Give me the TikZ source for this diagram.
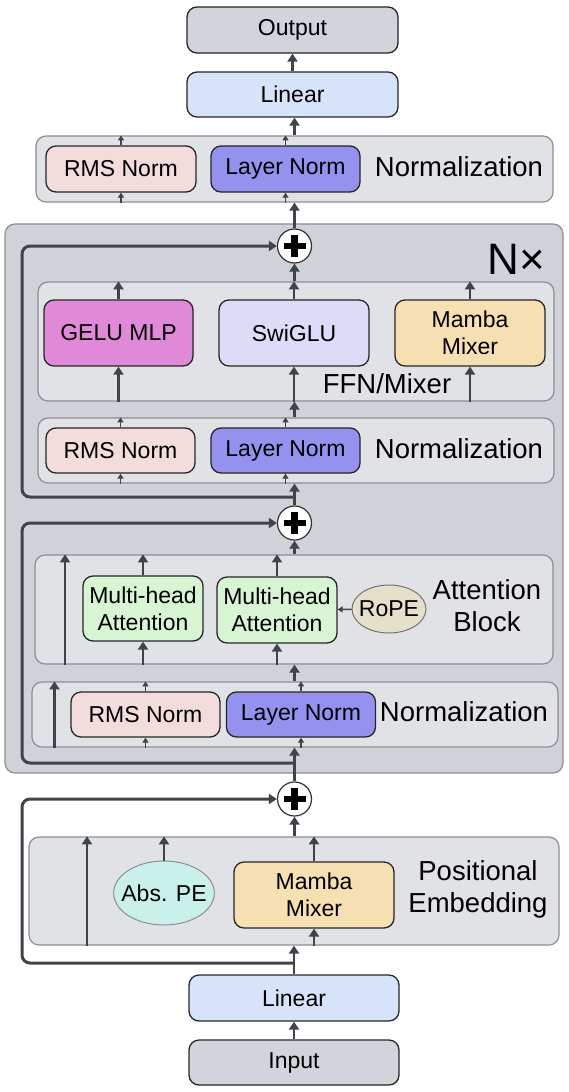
\documentclass[tikz,border=0pt]{standalone}
\usepackage{fontspec}
\setmainfont{Liberation Sans}
\usepackage{xcolor}
\usetikzlibrary{arrows.meta,shapes.geometric}

\definecolor{boxgray}{HTML}{D1D4DB}
\definecolor{linblue}{HTML}{D6E3F8}
\definecolor{grpbg}{HTML}{E1E2E6}
\definecolor{grpline}{HTML}{8C8E93}
\definecolor{bigbg}{HTML}{CFD2D9}
\definecolor{rmsc}{HTML}{F2DCDC}
\definecolor{lnc}{HTML}{9492EE}
\definecolor{geluc}{HTML}{DF89D8}
\definecolor{swic}{HTML}{DDDCF8}
\definecolor{mambc}{HTML}{F6DFB1}
\definecolor{mhac}{HTML}{D7F5D3}
\definecolor{ropec}{HTML}{E6E0CB}
\definecolor{absc}{HTML}{C9F0E9}
\definecolor{arrowc}{HTML}{3F444B}

\begin{document}
\begin{tikzpicture}[x=1pt,y=-1pt,
    box/.style={draw=black!85,line width=1.3pt,rounded corners=10pt,inner sep=0pt,align=center,font=\fontsize{23}{27}\selectfont},
    grp/.style={draw=grpline,fill=grpbg,line width=1.2pt,rounded corners=10pt,inner sep=0pt},
    lbl/.style={inner sep=0pt,align=center,font=\fontsize{27.5}{32}\selectfont},
    oval/.style={ellipse,draw=grpline,line width=1pt,inner ysep=0pt,inner xsep=-7pt,align=center,font=\fontsize{23}{27}\selectfont},
    plus/.style={circle,draw=black!80,line width=1.2pt,fill=white,minimum size=34pt,inner sep=0pt,
        path picture={\fill[black] ([shift={(-11pt,-3.2pt)}]path picture bounding box.center) rectangle ([shift={(11pt,3.2pt)}]path picture bounding box.center);
        \fill[black] ([shift={(-3.2pt,-11pt)}]path picture bounding box.center) rectangle ([shift={(3.2pt,11pt)}]path picture bounding box.center);}},
    arr/.style={draw=arrowc,line width=2.6pt,-{Triangle[width=10pt,length=8pt]}},
    tick/.style={draw=arrowc,line width=1.4pt,-{Triangle[width=6pt,length=5pt]}},
    skipline/.style={draw=arrowc,line width=3pt,rounded corners=8pt,-{Triangle[width=10pt,length=8pt]}}]
    \useasboundingbox (0,0) rectangle (568,1092);
    \node[grp,fill=bigbg,minimum width=558pt,minimum height=549pt] (blk) at (284,498.5) {};
    \node[lbl,font=\fontsize{44}{48}\selectfont] (nx) at (516,259) {N×};
    % top
    \node[box,fill=boxgray,minimum width=211pt,minimum height=46pt] (out) at (292.5,30) {Output};
    \node[box,fill=linblue,minimum width=211pt,minimum height=45pt] (linT) at (292.5,94.5) {Linear};
    \node[grp,minimum width=517pt,minimum height=66pt] (nrm0) at (294.5,169) {};
    \node[box,fill=rmsc,minimum width=150pt,minimum height=46pt] (rms0) at (121,169) {RMS Norm};
    \node[box,fill=lnc,minimum width=149pt,minimum height=46pt] (ln0) at (285.5,169) {Layer Norm};
    \node[lbl] (nl0) at (459,167) {Normalization};
    % mixer layer
    \node[plus] (p1) at (294.5,246) {};
    \node[grp,minimum width=516pt,minimum height=119pt] (ffn) at (296,341.5) {};
    \node[box,fill=geluc,minimum width=149pt,minimum height=66pt] (gelu) at (118.5,333) {GELU MLP};
    \node[box,fill=swic,minimum width=150pt,minimum height=66pt] (swi) at (294,333) {SwiGLU};
    \node[box,fill=mambc,minimum width=150pt,minimum height=66pt] (mamA) at (470,333) {Mamba\\Mixer};
    \node[lbl] (fl) at (387,384) {FFN/Mixer};
    \node[grp,minimum width=516pt,minimum height=65pt] (nrm1) at (296,450.5) {};
    \node[box,fill=rmsc,minimum width=149pt,minimum height=45pt] (rms1) at (120.5,450.5) {RMS Norm};
    \node[box,fill=lnc,minimum width=149pt,minimum height=45pt] (ln1) at (285.5,450.5) {Layer Norm};
    \node[lbl] (nl1) at (459,449) {Normalization};
    % attention layer
    \node[plus] (p2) at (294.5,523) {};
    \node[grp,minimum width=518pt,minimum height=109pt] (att) at (294,609.5) {};
    \node[box,fill=mhac,minimum width=120pt,minimum height=65pt] (mhaA) at (143,608.5) {Multi-head\\Attention};
    \node[box,fill=mhac,minimum width=120pt,minimum height=66pt] (mhaB) at (277,610) {Multi-head\\Attention};
    \node[oval,fill=ropec,draw=black!55,minimum width=74pt,minimum height=48pt] (rope) at (389,609) {RoPE};
    \node[lbl] (al) at (487,606) {Attention\\Block};
    \node[grp,minimum width=526pt,minimum height=65pt] (nrm2) at (295,714.5) {};
    \node[box,fill=rmsc,minimum width=149pt,minimum height=45pt] (rms2) at (145.5,714.5) {RMS Norm};
    \node[box,fill=lnc,minimum width=149pt,minimum height=45pt] (ln2) at (301,714.5) {Layer Norm};
    \node[lbl] (nl2) at (464,712) {Normalization};
    % embedding
    \node[plus] (p3) at (294.5,799) {};
    \node[grp,minimum width=530pt,minimum height=108pt] (pos) at (294,891) {};
    \node[oval,fill=absc,minimum width=97pt,minimum height=64pt] (abs) at (164,893) {Abs. PE};
    \node[box,fill=mambc,minimum width=160pt,minimum height=66pt] (mamB) at (314,895) {Mamba\\Mixer};
    \node[lbl] (pl) at (478,889) {Positional\\Embedding};
    \node[box,fill=linblue,minimum width=210pt,minimum height=46pt] (linB) at (294,998) {Linear};
    \node[box,fill=boxgray,minimum width=210pt,minimum height=45pt] (inp) at (294,1062.5) {Input};
    \coordinate (rail) at (22,0);
    \coordinate (s1) at (294.5,497);
    \coordinate (s2) at (294.5,763);
    \coordinate (s3) at (294.5,963);
    \coordinate (k1) at (54.5,0);
    \coordinate (k2) at (65,0);
    \coordinate (k3) at (87,0);
    % spine
    \draw[arr] (inp) -- (linB);
    \draw[arr] (linB.north) -- (linB.north |- pos.south);
    \draw[arr] (p3.north |- pos.north) -- (p3);
    \draw[arr] (p3.north) -- (p3.north |- nrm2.south);
    \draw[arr] (p2.south |- nrm2.north) -- (p2.south |- att.south);
    \draw[arr] (p2.south |- att.north) -- (p2);
    \draw[arr] (p2.north) -- (p2.north |- nrm1.south);
    \draw[arr] (p1.south |- nrm1.north) -- (p1.south |- ffn.south);
    \draw[arr] (p1.south |- ffn.north) -- (p1);
    \draw[arr] (p1.north) -- (p1.north |- nrm0.south);
    \draw[arr] (p1.north |- nrm0.north) -- (p1.north |- linT.south);
    \draw[arr] (linT) -- (out);
    % residual loops
    \draw[skipline] (s1) -- (s1 -| rail) -- (p1.west -| rail) -- (p1.west);
    \draw[skipline] (s2) -- (s2 -| rail) -- (p2.west -| rail) -- (p2.west);
    \draw[skipline] (s3) -- (s3 -| rail) -- (p3.west -| rail) -- (p3.west);
    % inside the groups
    \foreach \n/\g in {rms0/nrm0,ln0/nrm0,rms1/nrm1,ln1/nrm1,rms2/nrm2,ln2/nrm2}{
        \draw[tick] (\n.south |- \g.south) -- (\n.south);
        \draw[tick] (\n.north) -- (\n.north |- \g.north);
    }
    \foreach \n/\g in {gelu/ffn,swi/ffn,mamA/ffn,mhaA/att,mhaB/att,mamB/pos}{
        \draw[arr] (\n.south |- \g.south) -- (\n.south);
        \draw[arr] (\n.north) -- (\n.north |- \g.north);
    }
    \draw[arr] (abs.north) -- (abs.north |- pos.north);
    \draw[tick] (rope) -- (mhaB);
    \draw[arr] (k1 |- nrm2.south) -- (k1 |- nrm2.north);
    \draw[arr] (k2 |- att.south) -- (k2 |- att.north);
    \draw[arr] (k3 |- pos.south) -- (k3 |- pos.north);
\end{tikzpicture}
\end{document}
